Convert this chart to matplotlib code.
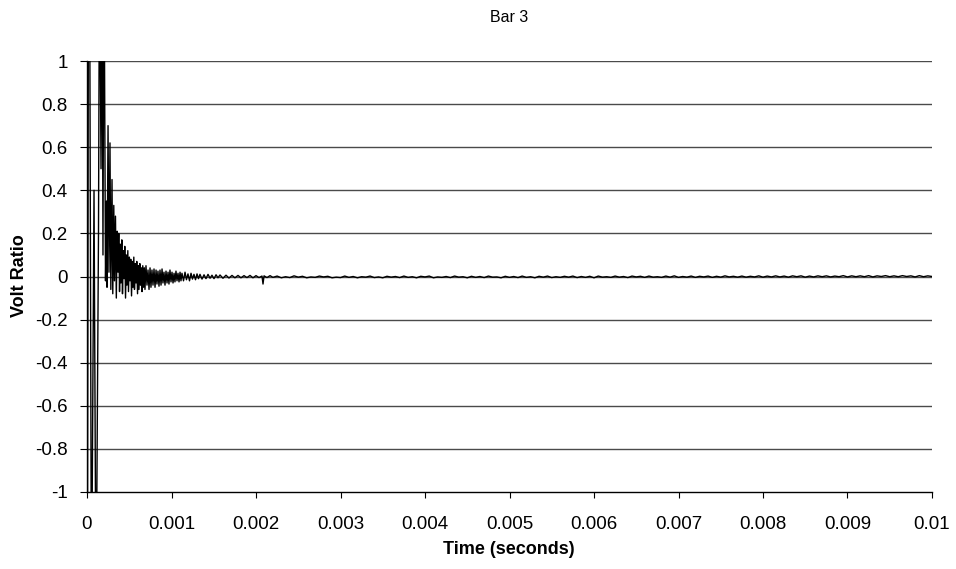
import numpy as np
import matplotlib
matplotlib.use("Agg")
import matplotlib.pyplot as plt

plt.rcParams['font.family'] = ['Liberation Sans', 'DejaVu Sans']

# ---- data (time in microseconds, volt ratio) ----
early_t_us = [
    0, 4, 18, 30, 53, 83, 107, 136, 148, 166, 178, 189, 201, 219, 231, 237,
    249, 260, 272, 282, 296, 305, 317, 325, 337, 347, 357, 367, 376, 385,
    394, 402, 412, 420, 430, 438, 447, 456, 465, 473, 483, 491, 501, 509,
    518, 527, 536, 544, 554, 562, 572, 580, 589, 598, 607, 615, 625, 633,
    643, 651, 660, 669, 678, 686, 698, 710, 722, 734, 746, 757, 769, 781,
    793, 805, 817, 828, 840, 852, 864, 876, 888, 899, 911, 923, 935, 947,
    959, 970, 982, 994, 1006, 1018, 1030, 1041, 1053, 1065, 1077, 1089,
    1101, 1112, 1124, 1142, 1160, 1177, 1195, 1213, 1231, 1248, 1266, 1284,
    1302, 1319, 1337, 1361, 1385, 1408, 1432, 1456, 1479, 1503, 1527, 1550,
    1574, 1609, 1645, 1680, 1716, 1751, 1787, 1822, 1858, 1893, 1929, 1964,
    2000, 2035, 2071, 2083, 2095, 2130, 2166,
]
early_v = [
    0.0, -1.6, 1.6, 1.6, -1.6, 0.4, -1.6, 0.2, 1.6, 0.5, 1.6, 0.1, 1.6, -0.02, 0.35, -0.05,
    0.70, 0.02, 0.62, -0.06, 0.45, -0.08, 0.33, -0.02, 0.28, -0.10, 0.21, 0.02, 0.20, -0.07,
    0.15, -0.03, 0.17, -0.08, 0.12, -0.01, 0.14, -0.10, 0.10, -0.04, 0.12, -0.07, 0.09, -0.02,
    0.08, -0.09, 0.07, -0.05, 0.09, -0.06, 0.06, -0.03, 0.07, -0.08, 0.05, -0.06, 0.06, -0.04,
    0.04, -0.07, 0.05, -0.05, 0.04, -0.06, 0.05, -0.04, 0.03, -0.06, 0.04, -0.05, 0.03, -0.04,
    0.035, -0.05, 0.03, -0.035, 0.025, -0.045, 0.03, -0.04, 0.035, -0.03, 0.02, -0.04, 0.025, -0.03,
    0.02, -0.035, 0.03, -0.025, 0.02, -0.03, 0.015, -0.025, 0.025, -0.02, 0.015, -0.025,
    0.02, -0.02, 0.015, -0.02, 0.02, -0.015, 0.012, -0.02, 0.015, -0.012, 0.01, -0.015,
    0.012, -0.01, 0.01, -0.012, 0.008, -0.01, 0.01, -0.008, 0.006, -0.01, 0.008, -0.006,
    0.007, -0.008, 0.006, -0.007, 0.005, -0.006, 0.005, -0.006, 0.004, -0.005, 0.005, -0.006,
    0.004, -0.005, 0.002, -0.035, 0.003, -0.005, 0.004,
]
late_start_us = 2200
late_step_us = 50
late_v = [
    -0.004, 0.002, -0.006, -0.001, -0.005, 0.003, -0.003, 0.001, -0.006, -0.002,
    -0.004, 0.002, -0.002, 0.001, -0.006, -0.003, -0.005, 0.002, -0.004, 0.000,
    -0.006, -0.001, -0.003, 0.002, -0.005, -0.002, -0.006, 0.001, -0.003, 0.000,
    -0.005, 0.002, -0.004, -0.001, -0.006, 0.001, -0.002, 0.002, -0.006, -0.002,
    -0.004, 0.000, -0.005, 0.002, -0.003, -0.001, -0.006, 0.001, -0.004, 0.000,
    -0.005, 0.002, -0.003, -0.002, -0.006, 0.001, -0.004, 0.000, -0.005, 0.002,
    -0.004, -0.001, -0.006, 0.001, -0.003, 0.002, -0.005, -0.001, -0.004, 0.001,
    -0.003, 0.002, -0.005, 0.000, -0.004, 0.001, -0.006, 0.002, -0.003, -0.001,
    -0.004, 0.002, -0.003, 0.000, -0.005, 0.002, -0.002, 0.001, -0.004, 0.002,
    -0.003, -0.001, -0.004, 0.002, -0.003, 0.003, -0.004, 0.000, -0.003, 0.002,
    -0.004, 0.001, -0.002, 0.002, -0.004, 0.001, -0.003, 0.003, -0.002, 0.001,
    -0.003, 0.002, -0.003, 0.001, -0.002, 0.003, -0.003, 0.002, -0.002, 0.003,
    -0.002, 0.002, -0.003, 0.003, -0.001, 0.003, -0.003, 0.002, -0.002, 0.003,
    -0.001, 0.003, -0.002, 0.002, -0.001, 0.004, -0.002, 0.003, -0.001, 0.003,
    -0.001, 0.004, -0.002, 0.003, 0.000, 0.004, -0.001, 0.003, -0.001, 0.004,
    0.000, 0.003, -0.002, 0.004, -0.001, 0.003, 0.000, 0.004, -0.001, 0.003,
]
x_ticks = [0, 0.001, 0.002, 0.003, 0.004, 0.005, 0.006, 0.007, 0.008, 0.009, 0.01]
x_tick_labels = ['0', '0.001', '0.002', '0.003', '0.004', '0.005', '0.006',
                 '0.007', '0.008', '0.009', '0.01']
y_ticks = [-1, -0.8, -0.6, -0.4, -0.2, 0, 0.2, 0.4, 0.6, 0.8, 1]
y_tick_labels = ['-1', '-0.8', '-0.6', '-0.4', '-0.2', '0', '0.2', '0.4', '0.6', '0.8', '1']

t_early = np.array(early_t_us) * 1e-6
t_late = (late_start_us + late_step_us * np.arange(len(late_v))) * 1e-6
t_all = np.concatenate([t_early, t_late])
v_all = np.concatenate([np.array(early_v), np.array(late_v)])

fig = plt.figure(figsize=(9.56, 5.69), dpi=100)
ax = fig.add_axes([87 / 956, 1 - 492 / 569, (932 - 87) / 956, (492 - 61) / 569])

for yv in y_ticks[1:]:
    ax.axhline(yv, color='#4a4a4a', lw=1.0, zorder=1)

ax.plot(t_all, v_all, color='black', lw=1.0, zorder=3, clip_on=True)

ax.set_xlim(0, 0.01)
ax.set_ylim(-1, 1)
ax.set_xticks(x_ticks)
ax.set_xticklabels(x_tick_labels)
ax.set_yticks(y_ticks)
ax.set_yticklabels(y_tick_labels)

for s in ['top', 'right']:
    ax.spines[s].set_visible(False)
for s in ['left', 'bottom']:
    ax.spines[s].set_color('black')
    ax.spines[s].set_linewidth(1.0)

ax.tick_params(axis='x', direction='out', length=4, width=0.8, pad=13, labelsize=13.5)
ax.tick_params(axis='y', direction='out', length=5, width=0.8, pad=9, labelsize=13.5)

fig.text(509 / 956, 1 - 17 / 569, 'Bar 3', ha='center', va='center', fontsize=11.5)
fig.text(19 / 956, 1 - 276 / 569, 'Volt Ratio', ha='center', va='center',
         rotation=90, fontsize=13, fontweight='bold')
fig.text(509 / 956, 1 - 549 / 569, 'Time (seconds)', ha='center', va='center',
         fontsize=13, fontweight='bold')

fig.savefig('out.png', dpi=100)
